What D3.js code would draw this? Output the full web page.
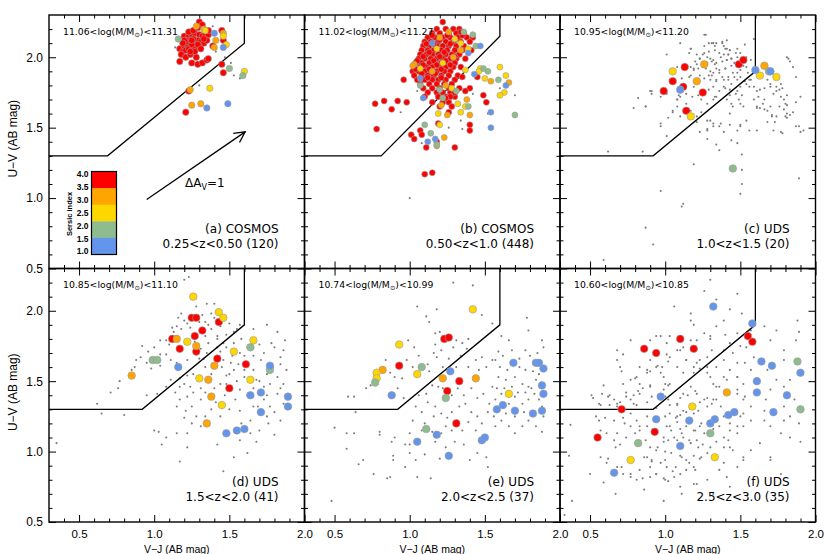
<!DOCTYPE html>
<html><head><meta charset="utf-8">
<script src="https://cdn.jsdelivr.net/npm/d3@7"></script>
<style>body{margin:0;background:#fff}svg{display:block}</style>
</head><body><svg id="c" width="830" height="554"></svg>
<script>
// ---------- tick values ----------
const xMajor = [0.5,1.0,1.5,2.0];
const xMinor = [0.4,0.6,0.7,0.8,0.9,1.1,1.2,1.3,1.4,1.6,1.7,1.8,1.9];
const yMajor = [0.5,1.0,1.5,2.0];
const yMinor = [0.6,0.7,0.8,0.9,1.1,1.2,1.3,1.4,1.6,1.7,1.8,1.9,2.1,2.2];
const sersicLabels = ["4.0","3.5","3.0","2.5","2.0","1.5","1.0"];
const sersicBandColors = ["#ff0000","#ffa500","#ffd700","#8fbc8f","#6495ed"]; // top->bottom
// ---------- panel texts ----------
const panelField = ["(a) COSMOS","(b) COSMOS","(c) UDS","(d) UDS","(e) UDS","(f) UDS"];
const panelZ = ["0.25<z<0.50 (120)","0.50<z<1.0 (448)","1.0<z<1.5 (20)","1.5<z<2.0 (41)","2.0<z<2.5 (37)","2.5<z<3.0 (35)"];
const massLo = ["11.06","11.02","10.95","10.85","10.74","10.60"];
const massHi = ["11.31","11.27","11.20","11.10","10.99","10.85"];
// ---------- selection boxes (V-J, U-V) ----------
const boxA = [[0.3,1.3],[0.69,1.3],[1.6,2.10],[1.6,2.3]];
const boxB = [[0.3,1.3],[0.81,1.3],[1.6,2.15],[1.6,2.3]];
const boxUDS = [[0.3,1.3],[0.92,1.3],[1.6,1.90],[1.6,2.3]];
const dustArrow = [[0.95,0.99],[1.605,1.47]];
// ---------- panel (a) ----------
const aRed = [[1.30,2.25],[1.32,2.23],[1.20,2.15],[1.23,2.15],[1.25,2.16],[1.27,2.17],[1.30,2.16],[1.32,2.15],[1.34,2.16],[1.36,2.16],[1.17,2.06],[1.20,2.08],[1.22,2.09],[1.24,2.10],[1.26,2.11],[1.29,2.12],[1.31,2.11],[1.33,2.10],[1.19,2.04],[1.21,2.05],[1.23,2.06],[1.25,2.05],[1.27,2.06],[1.18,2.02],[1.21,2.00],[1.24,2.02],[1.27,2.04],[1.17,1.97],[1.25,1.96],[1.29,1.95],[1.32,1.96],[1.35,1.98],[1.36,1.99],[1.35,2.12],[1.39,2.08],[1.45,2.19],[1.46,2.12],[1.45,1.95],[1.46,1.89],[1.23,1.76],[1.21,1.61],[1.22,2.12],[1.26,2.13],[1.30,2.08],[1.24,2.04],[1.21,2.11],[1.33,2.13],[1.29,2.09],[1.25,2.09],[1.31,2.06],[1.20,2.12],[1.36,2.19],[1.23,2.18],[1.26,2.19],[1.29,2.21],[1.25,2.12],[1.19,2.10],[1.28,2.00]];
const aOrange = [[1.33,2.20],[1.46,2.17],[1.41,2.12],[1.40,2.07],[1.24,1.77],[1.25,1.66],[1.31,1.67],[1.28,2.22]];
const aGold = [[1.34,2.19],[1.46,2.15],[1.48,2.09],[1.60,1.90],[1.37,1.78]];
const aGreen = [[1.16,2.13],[1.50,1.92],[1.59,1.87]];
const aBlue = [[1.40,2.17],[1.46,2.07],[1.35,1.64],[1.49,1.67]];
const aGray = [[1.26,2.20],[1.39,2.22],[1.47,2.00],[1.51,1.96],[1.53,1.87],[1.57,1.85],[1.30,1.80],[1.14,2.07],[1.41,2.04],[1.36,2.13]];
// ---------- panel (b) ----------
const bRed = [[1.18,2.20],[1.24,2.20],[1.29,2.20],[1.33,2.20],[1.15,2.17],[1.20,2.17],[1.26,2.17],[1.31,2.17],[1.36,2.17],[1.12,2.14],[1.17,2.14],[1.22,2.14],[1.27,2.14],[1.32,2.14],[1.38,2.14],[1.42,2.14],[1.10,2.11],[1.14,2.11],[1.19,2.11],[1.24,2.11],[1.29,2.11],[1.34,2.11],[1.40,2.11],[1.09,2.08],[1.13,2.08],[1.18,2.08],[1.22,2.08],[1.26,2.08],[1.31,2.08],[1.36,2.08],[1.08,2.05],[1.12,2.05],[1.16,2.05],[1.21,2.05],[1.25,2.05],[1.30,2.05],[1.35,2.05],[1.41,2.05],[1.07,2.02],[1.11,2.02],[1.15,2.02],[1.19,2.02],[1.24,2.02],[1.28,2.02],[1.33,2.02],[1.06,1.99],[1.10,1.99],[1.14,1.99],[1.18,1.99],[1.22,1.99],[1.27,1.99],[1.31,1.99],[1.37,1.99],[1.04,1.96],[1.08,1.96],[1.13,1.96],[1.17,1.96],[1.21,1.96],[1.25,1.96],[1.30,1.96],[1.03,1.93],[1.07,1.93],[1.11,1.93],[1.15,1.93],[1.20,1.93],[1.24,1.93],[1.29,1.93],[1.34,1.93],[1.02,1.90],[1.06,1.90],[1.10,1.90],[1.14,1.90],[1.18,1.90],[1.23,1.90],[1.27,1.90],[1.03,1.87],[1.08,1.87],[1.12,1.87],[1.16,1.87],[1.21,1.87],[1.26,1.87],[1.32,1.87],[1.05,1.84],[1.10,1.84],[1.15,1.84],[1.19,1.84],[1.24,1.84],[1.30,1.84],[1.07,1.81],[1.13,1.81],[1.18,1.81],[1.23,1.81],[1.28,1.81],[1.09,1.78],[1.15,1.78],[1.20,1.78],[1.26,1.78],[1.33,1.78],[1.12,1.75],[1.18,1.75],[1.22,1.75],[1.27,1.75],[1.10,1.72],[1.19,1.72],[1.24,1.72],[1.30,1.72],[1.15,1.68],[1.22,1.68],[1.26,1.68],[1.20,1.65],[1.28,1.65],[1.15,2.155],[1.25,2.155],[1.35,2.155],[1.20,2.125],[1.30,2.125],[1.11,2.095],[1.16,2.095],[1.27,2.095],[1.13,2.035],[1.23,2.035],[1.09,2.005],[1.20,2.005],[1.30,2.005],[1.05,1.975],[1.16,1.975],[1.24,1.975],[1.09,1.945],[1.18,1.945],[1.27,1.945],[1.04,1.915],[1.13,1.915],[1.21,1.915],[1.08,1.885],[1.17,1.885],[1.12,1.855],[1.21,1.855],[1.22,2.25],[0.77,1.67],[0.83,1.69],[0.92,1.69],[0.98,1.68],[0.88,1.63],[0.78,1.49],[1.10,1.17],[1.15,1.18],[0.96,1.84],[1.30,1.36],[1.01,1.45],[1.03,1.42],[1.07,1.48],[1.08,1.45],[1.11,1.36],[1.19,1.53],[1.40,1.48],[1.40,1.52],[1.49,1.73],[1.51,1.68],[1.35,1.86],[1.40,1.78],[1.37,1.76],[1.26,1.61],[1.27,1.72],[1.24,1.71],[1.30,1.75],[1.34,2.18],[1.45,1.86],[1.18,1.40]];
const bOrange = [[1.03,1.95],[1.26,2.18],[1.20,2.14],[1.24,1.80],[1.21,1.66],[1.25,1.59],[1.40,1.59],[1.54,1.83],[1.66,1.82],[1.23,1.43],[1.18,1.37],[1.02,1.94],[1.34,2.05],[1.15,1.90],[1.29,2.00],[1.38,1.70]];
const bGold = [[1.34,2.10],[1.39,2.06],[1.18,2.06],[1.07,1.92],[1.37,1.91],[1.47,1.92],[1.60,1.93],[1.50,1.85],[1.63,1.75],[1.60,1.73],[1.32,1.67],[1.37,1.65],[1.19,1.60],[1.20,1.52],[1.34,1.61],[1.64,1.87],[1.28,1.78],[1.22,1.96],[1.30,2.13],[1.46,1.90]];
const bGreen = [[1.36,2.18],[1.44,2.08],[1.49,1.92],[1.59,1.84],[1.70,1.59],[1.20,1.77],[1.39,1.65],[1.14,1.46],[1.18,1.38],[1.10,1.52],[1.07,1.80],[1.22,1.71],[1.42,2.16],[1.52,1.90],[1.31,1.76]];
const bBlue = [[1.39,2.03],[1.15,2.10],[1.09,1.71],[1.07,1.85],[1.54,1.61],[1.54,1.50],[1.64,1.80],[1.17,1.42],[1.12,1.40],[1.47,2.08],[1.43,1.88]];
const bGray = [[0.88,1.64],[0.94,1.61],[1.00,1.00],[1.70,1.73],[1.35,1.49],[1.34,1.55],[1.08,1.39],[1.52,1.60],[1.60,1.78],[1.05,1.76],[1.42,1.74],[1.26,1.50]];
// ---------- panel (c) ----------
const cRed = [[1.13,1.93],[1.05,1.83],[1.12,1.79],[0.99,1.76],[1.25,1.75],[1.49,1.95],[1.52,1.98],[1.14,1.62]];
const cOrange = [[1.26,1.95],[1.21,1.83],[1.66,1.94]];
const cGold = [[1.05,1.90],[1.17,1.58],[1.63,1.87],[1.74,1.86]];
const cGreen = [[1.69,1.90],[1.45,1.21]];
const cBlue = [[1.10,1.77],[1.60,1.91],[1.70,1.90]];
const cGray = [[0.62,1.33],[0.85,1.33],[0.82,1.71],[0.79,1.64],[0.87,1.65],[0.90,1.76],[0.91,1.74],[0.97,1.51],[1.01,1.44],[1.02,1.57],[1.05,1.61],[1.08,1.65],[1.08,1.70],[1.09,1.73],[1.10,1.72],[1.11,1.85],[1.16,1.86],[1.17,1.87],[1.14,1.74],[1.18,1.72],[1.19,1.79],[1.17,2.06],[1.16,2.03],[1.21,2.02],[1.23,1.99],[1.26,2.03],[1.28,2.00],[1.30,1.99],[1.32,1.98],[1.27,1.92],[1.30,1.90],[1.31,1.87],[1.33,1.95],[1.34,1.92],[1.36,1.89],[1.38,1.86],[1.37,2.00],[1.39,2.02],[1.41,1.98],[1.44,1.99],[1.46,1.96],[1.40,2.06],[1.32,2.10],[1.38,2.10],[1.43,2.05],[1.47,2.03],[1.48,2.06],[1.54,2.00],[1.57,1.98],[1.59,2.13],[1.27,2.16],[1.34,1.84],[1.39,1.79],[1.43,1.77],[1.47,1.74],[1.51,1.73],[1.49,1.70],[1.44,1.67],[1.52,1.65],[1.34,1.72],[1.32,1.70],[1.41,1.70],[1.28,1.67],[1.24,1.61],[1.21,1.54],[1.23,1.47],[1.28,1.49],[1.30,1.55],[1.32,1.51],[1.37,1.53],[1.39,1.47],[1.43,1.52],[1.48,1.48],[1.50,1.52],[1.54,1.55],[1.34,1.38],[1.36,1.34],[1.44,1.41],[1.48,1.39],[1.51,1.31],[1.51,1.20],[1.51,1.10],[1.50,1.03],[1.19,1.24],[0.97,1.05],[1.12,0.96],[1.11,0.94],[0.87,0.79],[0.92,0.67],[0.59,0.56],[1.28,1.42],[1.68,1.84],[1.70,1.79],[1.72,1.74],[1.74,1.76],[1.77,1.72],[1.79,1.70],[1.66,1.70],[1.61,1.65],[1.63,1.64],[1.66,1.63],[1.70,1.65],[1.79,1.63],[1.81,1.60],[1.83,1.59],[1.77,1.81],[1.78,1.78],[1.82,1.99],[1.81,1.66],[1.80,1.58],[1.89,1.51],[1.90,1.47],[1.77,1.47],[1.78,1.46],[1.89,1.14],[1.73,1.54],[1.71,1.58],[1.57,1.84],[1.59,1.79],[1.61,1.76],[1.62,1.72],[1.53,1.83],[1.56,1.79],[1.48,1.89],[1.50,1.86],[1.46,1.86],[1.42,1.84],[1.40,1.92],[1.23,1.87],[1.22,1.73],[1.24,1.70],[1.29,1.77],[1.32,1.79],[1.19,1.92],[1.21,1.95],[1.26,2.08],[1.29,2.10],[1.42,2.02],[1.53,2.09],[1.41,2.12],[1.33,2.08]];
const cGrayMore = [[1.26,2.16],[1.31,2.10],[1.34,2.10],[1.38,2.11],[1.39,2.08],[1.41,2.06],[1.43,2.05],[1.42,2.02],[1.36,2.03],[1.33,2.05],[1.29,2.04],[1.25,2.02],[1.23,1.99],[1.20,1.97],[1.17,1.93],[1.19,1.91],[1.22,1.92],[1.25,1.93],[1.28,1.96],[1.31,1.97],[1.34,1.96],[1.38,1.97],[1.41,1.98],[1.44,1.99],[1.48,2.00],[1.50,2.03],[1.44,1.94],[1.40,1.92],[1.36,1.91],[1.32,1.89],[1.29,1.87],[1.26,1.85],[1.30,1.84],[1.34,1.83],[1.39,1.84],[1.42,1.86],[1.45,1.89],[1.50,1.91],[1.52,1.94],[1.54,1.93],[1.55,1.89],[1.48,1.84],[1.44,1.81],[1.40,1.78],[1.36,1.76],[1.33,1.72],[1.43,1.73],[1.48,1.76],[1.50,1.79],[1.54,1.81],[1.56,1.84],[1.10,2.10],[1.17,2.06],[1.01,2.02],[1.08,1.93],[1.05,1.89],[1.03,1.84],[1.01,1.74],[0.91,1.76],[0.87,1.65],[0.97,1.72],[1.08,1.70],[1.14,1.67],[1.17,1.62],[1.05,1.62],[1.21,1.58],[1.28,1.55],[1.32,1.53],[1.28,1.48],[1.36,1.51],[1.43,1.60],[1.45,1.65],[1.50,1.67],[1.59,1.70],[1.61,1.64],[1.65,1.67],[1.68,1.62],[1.71,1.59],[1.74,1.58],[1.76,1.65],[1.80,1.67],[1.81,1.73],[1.76,1.77],[1.74,1.79],[1.70,1.81],[1.66,1.78],[1.63,1.77],[1.83,1.97],[1.81,2.00],[1.87,1.86],[1.85,1.93],[1.90,1.72],[1.87,1.68],[1.85,1.61],[1.81,1.57],[1.87,1.51],[1.92,1.48],[1.50,1.51],[1.56,1.48],[1.61,1.48],[1.68,1.54],[1.72,1.48],[1.10,1.58],[0.97,1.53]];
// ---------- panel (d) ----------
const dRed = [[1.25,1.95],[1.28,1.95],[1.43,1.92],[1.32,1.86],[1.27,1.82],[1.12,1.80],[1.17,1.73],[1.28,1.71],[1.42,1.66],[1.61,1.62],[1.50,1.45]];
const dOrange = [[1.15,1.80],[1.28,1.75],[1.40,1.61],[0.85,1.54],[1.36,1.51],[1.38,1.39],[1.35,1.20]];
const dGold = [[1.26,2.10],[1.43,1.99],[1.46,1.95],[1.22,1.78],[1.30,1.52],[1.53,1.71],[1.66,1.79],[1.64,1.51],[1.45,1.33]];
const dGreen = [[0.99,1.65],[1.02,1.65],[1.64,1.74],[1.77,1.58]];
const dBlue = [[1.16,1.60],[1.77,1.61],[1.64,1.40],[1.71,1.42],[1.89,1.39],[1.89,1.32],[1.71,1.28],[1.48,1.13],[1.55,1.15],[1.60,1.16]];
const dGray = [[0.35,1.06],[0.62,1.34],[0.65,1.27],[0.80,1.26],[0.71,1.42],[0.76,1.45],[0.77,1.50],[0.85,1.58],[0.87,1.60],[0.88,1.65],[0.91,1.67],[0.92,1.75],[0.96,1.71],[0.95,1.63],[0.98,1.59],[1.04,1.69],[1.04,1.61],[1.02,1.41],[0.95,1.40],[1.08,1.79],[1.10,1.76],[1.08,1.69],[1.13,1.85],[1.15,1.89],[1.18,1.87],[1.20,1.93],[1.22,1.91],[1.18,1.98],[1.23,2.24],[1.20,2.22],[1.32,1.97],[1.34,1.92],[1.36,1.90],[1.38,1.98],[1.40,1.95],[1.44,1.89],[1.48,1.83],[1.50,1.91],[1.53,1.85],[1.55,1.87],[1.57,1.90],[1.34,1.82],[1.36,1.77],[1.33,1.66],[1.35,1.70],[1.42,1.74],[1.44,1.71],[1.48,1.74],[1.46,1.65],[1.51,1.63],[1.53,1.58],[1.48,1.54],[1.44,1.48],[1.40,1.45],[1.31,1.45],[1.26,1.42],[1.22,1.39],[1.17,1.37],[1.15,1.32],[1.21,1.29],[1.25,1.32],[1.31,1.37],[1.28,1.25],[1.31,1.18],[1.22,1.13],[1.15,1.13],[1.08,1.10],[1.05,1.05],[1.00,1.15],[1.03,1.14],[1.17,0.93],[1.22,1.03],[1.42,1.05],[1.46,0.86],[1.53,0.96],[1.57,1.08],[1.62,0.99],[1.64,1.13],[1.68,1.07],[1.75,1.25],[1.80,1.12],[1.84,1.22],[1.86,1.34],[1.87,1.79],[1.82,1.85],[1.75,1.90],[1.66,1.87],[1.73,1.70],[1.71,1.65],[1.80,1.74],[1.84,1.67],[1.82,1.53],[1.77,1.48],[1.73,1.46],[1.68,1.51],[1.66,1.58],[1.60,1.53],[1.57,1.44],[1.54,1.37],[1.57,1.29],[1.66,1.32],[1.73,1.37],[1.77,1.32],[1.82,1.41],[1.86,1.48],[1.88,1.58],[1.62,1.74],[1.57,1.70],[1.53,1.77],[1.42,1.82],[1.30,1.66],[1.22,1.65],[1.15,1.63],[1.11,1.65],[1.22,1.54],[1.17,1.52],[1.11,1.51],[1.08,1.46],[1.17,1.46],[1.04,1.79],[1.00,1.74],[1.35,2.05],[1.28,2.03],[1.40,2.05],[1.48,1.48]];
const dGrayMore = [[1.12,1.88],[1.16,1.95],[1.24,1.88],[1.30,1.92],[1.27,1.78],[1.31,1.73],[1.38,1.87],[1.42,1.80],[1.46,1.77],[1.52,1.68],[1.56,1.62],[1.60,1.58],[1.55,1.50],[1.50,1.55],[1.45,1.60],[1.38,1.55],[1.34,1.60],[1.26,1.55],[1.20,1.48],[1.14,1.42],[1.24,1.46],[1.34,1.42],[1.41,1.35],[1.47,1.40],[1.50,1.30],[1.44,1.25],[1.38,1.30],[1.34,1.25],[1.25,1.20],[1.20,1.24],[1.62,1.40],[1.66,1.45],[1.70,1.50],[1.75,1.55],[1.79,1.60],[1.84,1.62],[1.86,1.72],[1.78,1.77],[1.70,1.76],[1.66,1.68],[1.60,1.68],[1.58,1.80],[1.69,1.32],[1.80,1.28],[1.84,1.45],[1.75,1.40],[1.64,1.22],[1.58,1.20],[1.70,1.15],[1.76,1.20]];
// ---------- panel (e) ----------
const eRed = [[1.23,1.80],[1.26,1.81],[0.93,1.61],[1.33,1.50],[1.25,1.43],[1.31,1.20]];
const eOrange = [[0.82,1.58],[1.22,1.52],[1.44,1.52]];
const eGold = [[1.42,2.01],[0.93,1.76],[0.78,1.56],[0.78,1.52],[1.05,1.55],[1.66,1.41]];
const eGreen = [[1.08,1.60],[0.77,1.49],[1.24,1.38],[1.11,1.16]];
const eBlue = [[1.27,1.57],[0.88,1.40],[1.69,1.63],[1.84,1.63],[1.86,1.63],[1.89,1.59],[1.88,1.47],[1.89,1.41],[1.58,1.30],[1.62,1.33],[1.70,1.29],[1.82,1.27],[1.88,1.29],[1.18,1.12],[1.05,1.07],[1.48,1.08],[1.50,1.10],[1.26,0.97]];
const eGray = [[0.48,0.65],[0.50,1.17],[0.58,1.13],[0.63,1.13],[0.58,1.02],[0.59,1.39],[0.63,1.39],[0.64,1.28],[0.66,0.91],[0.69,0.94],[0.71,1.45],[0.74,1.47],[0.76,0.84],[0.80,1.14],[0.80,1.12],[0.85,0.81],[0.87,0.82],[0.89,0.97],[0.89,0.94],[0.88,1.07],[0.90,1.10],[0.84,1.65],[0.87,1.56],[0.90,1.53],[0.95,1.52],[0.98,1.65],[0.99,1.79],[1.03,1.74],[1.05,2.03],[1.11,1.96],[1.13,1.92],[1.18,2.01],[1.17,1.84],[1.20,1.85],[1.17,1.76],[1.21,1.72],[1.18,1.67],[1.31,1.79],[1.29,1.74],[1.35,1.77],[1.38,1.73],[1.39,1.80],[1.29,2.20],[1.42,2.18],[1.48,1.97],[1.55,1.91],[1.13,1.57],[1.15,1.47],[1.19,1.46],[1.11,1.41],[1.04,1.32],[1.08,1.28],[1.17,1.32],[1.21,1.27],[1.25,1.24],[1.28,1.28],[1.33,1.32],[1.37,1.34],[1.41,1.28],[1.45,1.25],[1.39,1.21],[1.35,1.15],[1.28,1.15],[1.21,1.13],[1.15,1.14],[1.08,1.15],[1.00,1.13],[0.97,1.05],[1.00,0.99],[1.04,0.94],[0.97,0.89],[1.05,0.82],[1.14,0.81],[1.17,1.07],[1.24,1.03],[1.30,1.07],[1.36,1.05],[1.40,0.94],[1.45,0.99],[1.51,0.96],[1.52,0.89],[1.57,1.18],[1.61,1.22],[1.66,1.18],[1.70,1.13],[1.75,1.18],[1.79,1.22],[1.84,1.18],[1.88,1.14],[1.89,1.25],[1.88,1.32],[1.86,1.37],[1.83,1.41],[1.79,1.37],[1.75,1.34],[1.70,1.39],[1.66,1.34],[1.61,1.41],[1.57,1.37],[1.53,1.34],[1.49,1.41],[1.55,1.46],[1.59,1.53],[1.64,1.51],[1.70,1.53],[1.75,1.48],[1.79,1.46],[1.84,1.51],[1.88,1.79],[1.89,1.74],[1.79,1.86],[1.78,1.95],[1.77,1.72],[1.68,1.72],[1.61,1.82],[1.66,1.79],[1.57,1.65],[1.51,1.60],[1.46,1.58],[1.39,1.60],[1.59,1.71],[1.48,1.67],[1.44,1.65]];
const eGrayMore = [[1.02,1.60],[1.06,1.68],[1.12,1.62],[1.16,1.70],[1.22,1.60],[1.26,1.66],[1.31,1.60],[1.34,1.68],[1.32,1.45],[1.36,1.40],[1.41,1.45],[1.45,1.38],[1.28,1.40],[1.22,1.45],[1.12,1.35],[1.06,1.40],[1.02,1.22],[1.10,1.20],[1.16,1.25],[1.24,1.18],[1.32,1.22],[1.44,1.15],[1.48,1.20],[1.52,1.28],[1.58,1.45],[1.63,1.45],[1.68,1.46],[1.72,1.42],[1.77,1.42],[1.81,1.45],[1.86,1.55],[1.82,1.57],[1.77,1.58],[1.73,1.60],[1.65,1.58],[1.60,1.60],[1.55,1.65],[1.62,1.68],[1.73,1.66],[1.80,1.68],[1.85,1.70],[1.70,1.25],[1.76,1.28],[1.64,1.27],[1.56,1.25],[0.92,1.45],[0.96,1.38],[1.00,1.05],[1.10,0.98],[1.20,0.95]];
// ---------- panel (f) ----------
const fRed = [[1.55,1.82],[1.58,1.78],[1.10,1.80],[0.86,1.73],[0.94,1.70],[1.19,1.73],[0.71,1.30],[0.93,1.14],[0.55,1.10]];
const fOrange = [[1.41,1.42]];
const fGold = [[1.18,1.32],[1.33,0.96],[0.77,0.94]];
const fGreen = [[1.88,1.64],[1.90,1.30],[1.30,1.13],[0.82,1.06]];
const fBlue = [[1.32,2.03],[1.58,1.91],[1.64,1.64],[1.71,1.61],[1.90,1.56],[1.61,1.50],[1.61,1.42],[1.81,1.40],[0.97,1.39],[1.72,1.28],[1.46,1.28],[1.42,1.26],[1.33,1.23],[1.30,1.20],[1.16,1.22],[0.94,1.23],[1.10,1.04],[0.66,0.85]];
const fGray = [[0.38,0.65],[0.33,0.55],[0.37,1.19],[0.36,0.97],[0.50,0.84],[0.51,1.40],[0.59,0.78],[0.62,0.95],[0.63,1.40],[0.57,1.33],[0.54,1.25],[0.67,0.70],[0.68,1.65],[0.70,1.60],[0.72,1.48],[0.74,1.42],[0.77,1.27],[0.73,1.20],[0.68,1.13],[0.67,1.03],[0.71,0.89],[0.77,0.84],[0.81,0.80],[0.86,0.73],[0.90,0.89],[0.94,0.84],[0.99,0.65],[1.00,0.80],[1.06,0.82],[1.11,0.70],[1.19,0.77],[0.80,1.13],[0.83,1.18],[0.88,1.25],[0.79,1.34],[0.83,1.41],[0.81,1.53],[0.83,1.60],[0.88,1.56],[0.90,1.46],[0.90,1.65],[0.94,1.60],[0.99,1.53],[1.03,1.48],[0.99,1.44],[1.02,1.37],[0.94,1.31],[1.00,1.25],[1.03,1.18],[1.06,1.10],[0.99,1.07],[0.94,1.01],[0.90,1.03],[0.86,0.96],[0.91,0.94],[1.00,0.94],[1.07,0.89],[1.11,0.96],[1.16,0.92],[1.20,0.87],[1.24,0.96],[1.22,1.03],[1.16,1.08],[1.11,1.13],[1.20,1.15],[1.24,1.20],[1.08,1.25],[1.12,1.29],[1.08,1.34],[1.12,1.41],[1.17,1.46],[1.21,1.41],[1.26,1.37],[1.28,1.32],[1.32,1.37],[1.37,1.32],[1.39,1.25],[1.43,1.20],[1.48,1.13],[1.52,1.18],[1.57,1.22],[1.52,1.27],[1.57,1.32],[1.66,1.29],[1.66,1.22],[1.70,1.18],[1.77,1.13],[1.83,1.10],[1.89,1.20],[1.90,1.07],[1.79,1.22],[1.83,1.25],[1.79,1.32],[1.86,1.37],[1.79,1.46],[1.74,1.51],[1.83,1.51],[1.70,1.44],[1.67,1.37],[1.52,1.37],[1.48,1.41],[1.52,1.48],[1.48,1.53],[1.43,1.58],[1.48,1.63],[1.39,1.53],[1.34,1.46],[1.30,1.53],[1.28,1.60],[1.23,1.65],[1.19,1.60],[1.14,1.65],[1.12,1.56],[1.08,1.60],[1.03,1.67],[1.08,1.72],[1.01,1.77],[0.97,1.82],[1.17,1.93],[1.19,1.90],[1.06,2.03],[1.17,1.98],[1.26,1.84],[1.30,1.80],[1.34,1.89],[1.39,1.93],[1.43,2.01],[1.30,2.22],[1.34,2.08],[1.26,2.14],[1.48,2.12],[1.51,1.98],[1.57,1.86],[1.66,1.89],[1.70,1.79],[1.79,1.72],[1.89,1.85],[1.87,1.79],[1.88,1.93],[1.74,1.86],[1.79,1.65],[1.68,1.58],[1.57,1.58],[1.59,1.67],[1.54,1.74],[1.43,1.77],[1.39,1.72],[1.21,1.79],[1.12,1.74],[0.90,1.79],[0.68,1.72],[0.77,1.79],[0.59,1.47],[0.68,1.34],[1.70,0.96],[1.70,0.94],[1.77,0.84],[1.63,1.06],[1.52,0.94],[1.43,1.03],[1.39,0.92],[1.57,1.01]];
const fGrayMore = [[0.72,1.69],[0.71,1.57],[0.77,1.51],[0.80,1.52],[0.83,1.48],[0.88,1.58],[0.90,1.57],[0.95,1.61],[0.98,1.60],[1.01,1.69],[1.02,1.64],[0.97,1.56],[1.00,1.48],[1.02,1.47],[0.90,1.47],[0.85,1.45],[0.82,1.43],[0.79,1.40],[0.74,1.39],[0.70,1.35],[0.66,1.37],[0.62,1.39],[0.58,1.41],[0.52,1.38],[0.56,1.34],[0.63,1.33],[0.68,1.32],[0.77,1.37],[0.81,1.33],[0.88,1.35],[0.91,1.39],[1.00,1.39],[1.03,1.27],[1.07,1.24],[1.08,1.21],[1.10,1.26],[1.14,1.28],[1.19,1.27],[1.22,1.29],[1.23,1.35],[1.28,1.38],[1.31,1.34],[1.34,1.37],[1.10,1.38],[1.15,1.40],[1.20,1.43],[1.08,1.33],[1.03,1.33],[1.01,1.18],[1.04,1.15],[1.10,1.16],[1.14,1.18],[1.19,1.15],[1.23,1.18],[1.26,1.13],[1.32,1.16],[1.36,1.18],[1.39,1.10],[1.43,1.15],[1.48,1.18],[1.50,1.25],[0.99,1.10],[1.02,1.08],[1.08,1.08],[1.12,1.10],[1.17,1.06],[1.21,1.08],[1.25,1.05],[1.30,1.03],[1.34,1.07],[1.39,1.03],[1.42,1.08],[1.45,1.01],[0.95,1.03],[1.00,1.00],[1.04,0.99],[1.10,0.97],[1.14,0.94],[1.19,0.97],[1.23,0.95],[1.28,0.99],[0.88,0.96],[0.91,0.93],[0.97,0.92],[1.01,0.89],[1.05,0.86],[1.10,0.84],[1.14,0.87],[1.19,0.89],[0.83,0.87],[0.85,0.81],[0.90,0.82],[0.94,0.84],[0.99,0.81],[1.02,0.79],[0.77,0.82],[0.72,0.84],[0.68,0.89],[0.61,0.92],[0.57,0.96],[0.57,1.15],[0.61,1.13],[0.66,1.08],[0.70,1.05],[0.74,1.10],[0.77,1.18],[0.81,1.22],[0.83,1.15],[0.87,1.08],[0.88,1.18],[0.60,1.24],[0.56,1.22],[0.66,1.22],[0.72,1.24],[1.17,1.79],[1.30,1.82],[1.40,1.83],[1.48,1.84],[1.31,1.72],[1.28,1.67],[1.21,1.63],[1.23,1.59],[1.19,1.56],[1.28,1.56],[1.34,1.60],[1.39,1.65],[1.45,1.70],[1.50,1.75],[1.53,1.63],[1.48,1.53],[1.41,1.51],[1.36,1.46],[1.48,1.44],[1.53,1.39],[1.32,1.48],[1.14,1.65],[1.10,1.72],[1.03,1.82],[0.94,1.82],[1.36,0.87],[1.41,0.82],[1.48,0.89],[1.52,0.96],[1.43,0.75],[1.28,0.80],[1.32,0.70],[1.10,0.75],[1.21,0.77]];

// ---------- layout ----------
const svg = d3.select("#c");
const L = 49, T = 15, PW = 255.5, PH = 253.5;
const SANS = "'Liberation Sans', Arial, sans-serif";
const DJV = "'DejaVu Sans', sans-serif";
const colorOf = {red:"#ff0000", orange:"#ffa500", gold:"#ffd700", green:"#8fbc8f", blue:"#6495ed"};

const panels = [
  {gray:aGray, cls:{red:aRed, orange:aOrange, gold:aGold, green:aGreen, blue:aBlue}, box:boxA, r:3.2},
  {gray:bGray, cls:{red:bRed, orange:bOrange, gold:bGold, green:bGreen, blue:bBlue}, box:boxB, r:3.0},
  {gray:cGray.concat(cGrayMore), cls:{red:cRed, orange:cOrange, gold:cGold, green:cGreen, blue:cBlue}, box:boxUDS, r:3.8},
  {gray:dGray.concat(dGrayMore), cls:{red:dRed, orange:dOrange, gold:dGold, green:dGreen, blue:dBlue}, box:boxUDS, r:3.8},
  {gray:eGray.concat(eGrayMore), cls:{red:eRed, orange:eOrange, gold:eGold, green:eGreen, blue:eBlue}, box:boxUDS, r:3.8},
  {gray:fGray.concat(fGrayMore), cls:{red:fRed, orange:fOrange, gold:fGold, green:fGreen, blue:fBlue}, box:boxUDS, r:3.8}
];

const defs = svg.append("defs");

panels.forEach((p, i) => {
  const col = i % 3, row = Math.floor(i / 3);
  const x0 = L + col * PW, y0 = T + row * PH;
  const xs = d3.scaleLinear().domain([0.3, 2.0]).range([x0, x0 + PW]);
  const ys = d3.scaleLinear().domain([0.5, 2.3]).range([y0 + PH, y0]);
  const g = svg.append("g");

  defs.append("clipPath").attr("id", "clip" + i)
    .append("rect").attr("x", x0).attr("y", y0).attr("width", PW).attr("height", PH);
  const plot = g.append("g").attr("clip-path", `url(#clip${i})`);

  plot.selectAll("circle.gray").data(p.gray).join("circle").attr("class","gray")
    .attr("cx", d => xs(d[0])).attr("cy", d => ys(d[1])).attr("r", 1.05).attr("fill", "#7c7c7c");

  plot.append("path").attr("d", d3.line().x(d => xs(d[0])).y(d => ys(d[1]))(p.box))
    .attr("fill", "none").attr("stroke", "#000").attr("stroke-width", 1.3);

  ["red","orange","gold","green","blue"].forEach(k => {
    plot.selectAll("circle.c" + k).data(p.cls[k]).join("circle").attr("class", "c" + k)
      .attr("cx", d => xs(d[0])).attr("cy", d => ys(d[1])).attr("r", p.r)
      .attr("fill", colorOf[k]).attr("stroke", "#9a9a9a").attr("stroke-width", 0.6);
  });

  const fmt = d3.format(".1f");
  function style(sel){ sel.select(".domain").remove(); sel.selectAll("line").attr("stroke","#000").attr("stroke-width",1);
    sel.attr("font-family", SANS).attr("font-size", 11.5); sel.selectAll("text").attr("fill","#000"); }
  g.append("g").attr("transform", `translate(0,${y0 + PH})`)
    .call(d3.axisBottom(xs).tickValues(xMajor).tickSize(-7).tickPadding(8).tickFormat(row === 1 ? fmt : "")).call(style);
  g.append("g").attr("transform", `translate(0,${y0 + PH})`)
    .call(d3.axisBottom(xs).tickValues(xMinor).tickSize(-3.5).tickFormat("")).call(style);
  g.append("g").attr("transform", `translate(0,${y0})`)
    .call(d3.axisTop(xs).tickValues(xMajor).tickSize(-7).tickFormat("")).call(style);
  g.append("g").attr("transform", `translate(0,${y0})`)
    .call(d3.axisTop(xs).tickValues(xMinor).tickSize(-3.5).tickFormat("")).call(style);
  g.append("g").attr("transform", `translate(${x0},0)`)
    .call(d3.axisLeft(ys).tickValues(yMajor).tickSize(-7).tickPadding(6).tickFormat(col === 0 ? fmt : "")).call(style)
    .selectAll("text").attr("font-size", 12);
  g.append("g").attr("transform", `translate(${x0},0)`)
    .call(d3.axisLeft(ys).tickValues(yMinor).tickSize(-3.5).tickFormat("")).call(style);
  g.append("g").attr("transform", `translate(${x0 + PW},0)`)
    .call(d3.axisRight(ys).tickValues(yMajor).tickSize(-7).tickFormat("")).call(style);
  g.append("g").attr("transform", `translate(${x0 + PW},0)`)
    .call(d3.axisRight(ys).tickValues(yMinor).tickSize(-3.5).tickFormat("")).call(style);

  g.append("rect").attr("x", x0).attr("y", y0).attr("width", PW).attr("height", PH)
    .attr("fill", "none").attr("stroke", "#000").attr("stroke-width", 1.4);

  const mt = g.append("text").attr("x", x0 + 14).attr("y", y0 + 19.5)
    .attr("font-family", DJV).attr("font-size", 9.3).attr("fill", "#000");
  mt.append("tspan").text(massLo[i] + "<log(M/M");
  mt.append("tspan").attr("font-size", 6.5).attr("dy", 2).text("\u2299");
  mt.append("tspan").attr("dy", -2).text(")<" + massHi[i]);

  g.append("text").attr("x", x0 + PW - 26).attr("y", y0 + 217.5).attr("text-anchor", "end")
    .attr("font-family", DJV).attr("font-size", 12).attr("fill", "#000").text(panelField[i]);
  g.append("text").attr("x", x0 + PW - 26).attr("y", y0 + 232.5).attr("text-anchor", "end")
    .attr("font-family", DJV).attr("font-size", 12).attr("fill", "#000").text(panelZ[i]);

  if (col === 0) {
    g.append("text").attr("transform", `translate(${17},${y0 + PH / 2 - 3}) rotate(-90)`)
      .attr("text-anchor", "middle").attr("font-family", SANS).attr("font-size", 12).attr("fill", "#000")
      .text("U\u2212V (AB mag)");
  }
  if (row === 1) {
    g.append("text").attr("x", x0 + PW / 2).attr("y", y0 + PH + 30.5).attr("text-anchor", "middle")
      .attr("font-family", SANS).attr("font-size", 10.5).attr("fill", "#000").text("V\u2212J (AB mag)");
  }

  if (i === 0) {
    const [s, e] = dustArrow;
    const x1 = xs(s[0]), y1 = ys(s[1]), x2 = xs(e[0]), y2 = ys(e[1]);
    g.append("line").attr("x1", x1).attr("y1", y1).attr("x2", x2).attr("y2", y2)
      .attr("stroke", "#000").attr("stroke-width", 1.3);
    const ang = Math.atan2(y1 - y2, x1 - x2), hl = 12, ha = 0.48;
    g.append("path").attr("d", `M${x2 + hl * Math.cos(ang - ha)},${y2 + hl * Math.sin(ang - ha)}L${x2},${y2}L${x2 + hl * Math.cos(ang + ha)},${y2 + hl * Math.sin(ang + ha)}`)
      .attr("fill", "none").attr("stroke", "#000").attr("stroke-width", 1.3);
    const at = g.append("text").attr("x", x0 + 136).attr("y", y0 + 172)
      .attr("font-family", DJV).attr("font-size", 12).attr("fill", "#000");
    at.append("tspan").text("\u0394A");
    at.append("tspan").attr("font-size", 8).attr("dy", 3).text("V");
    at.append("tspan").attr("dy", -3).text("=1");

    const cbX = x0 + 42.5, cbY = y0 + 156.5, cbW = 25, cbH = 83;
    const bh = cbH / sersicBandColors.length;
    sersicBandColors.forEach((c, k) => {
      g.append("rect").attr("x", cbX).attr("y", cbY + k * bh).attr("width", cbW).attr("height", bh + 0.3).attr("fill", c);
    });
    g.append("rect").attr("x", cbX).attr("y", cbY).attr("width", cbW).attr("height", cbH)
      .attr("fill", "none").attr("stroke", "#000").attr("stroke-width", 1.2);
    const ly = d3.scalePoint().domain(sersicLabels).range([cbY + 3, cbY + cbH - 3]);
    sersicLabels.forEach(t => {
      g.append("text").attr("x", cbX - 3).attr("y", ly(t)).attr("dy", "0.35em").attr("text-anchor", "end")
        .attr("font-family", SANS).attr("font-size", 8.5).attr("font-weight", "bold").attr("fill", "#000").text(t);
    });
    g.append("text").attr("transform", `translate(${cbX - 22},${cbY + cbH / 2 + 1}) rotate(-90)`)
      .attr("dy", "0.35em").attr("text-anchor", "middle").attr("font-family", SANS).attr("font-size", 7.5)
      .attr("font-weight", "bold").attr("fill", "#000").text("Sersic index");
  }
});
</script></body></html>
